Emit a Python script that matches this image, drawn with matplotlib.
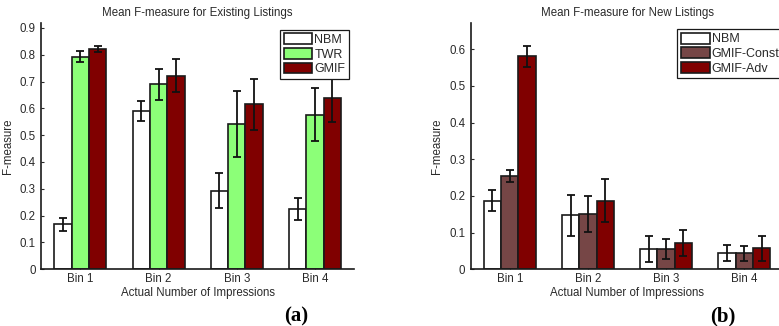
import matplotlib
matplotlib.use("Agg")
import matplotlib.pyplot as plt
import numpy as np

plt.rcParams['font.family'] = ['Liberation Sans', 'DejaVu Sans']

bins = ["Bin 1", "Bin 2", "Bin 3", "Bin 4"]

# Panel (a): existing listings
a_labels = ["NBM", "TWR", "GMIF"]
a_nbm = [0.167, 0.590, 0.293, 0.226]
a_nbm_err = [0.026, 0.036, 0.065, 0.041]
a_twr = [0.793, 0.690, 0.542, 0.577]
a_twr_err = [0.022, 0.058, 0.123, 0.097]
a_gmif = [0.822, 0.722, 0.616, 0.639]
a_gmif_err = [0.012, 0.061, 0.095, 0.089]

# Panel (b): new listings
b_labels = ["NBM", "GMIF-Const", "GMIF-Adv"]
b_nbm = [0.187, 0.147, 0.056, 0.044]
b_nbm_err = [0.029, 0.056, 0.035, 0.022]
b_const = [0.254, 0.150, 0.055, 0.044]
b_const_err = [0.016, 0.049, 0.027, 0.020]
b_adv = [0.581, 0.187, 0.071, 0.057]
b_adv_err = [0.028, 0.058, 0.036, 0.033]

W, H = 779, 326
fig = plt.figure(figsize=(W / 100, H / 100), dpi=100)

txt = "#2a2a2a"
bw = 0.222


def panel(rect, series, errs, labels, colors, ylim, yticks, title, leg_anchor, leg_loc):
    ax = fig.add_axes(rect)
    x = np.arange(1, len(bins) + 1)
    offs = [-bw, 0, bw]
    for s, e, lab, c, o in zip(series, errs, labels, colors, offs):
        ax.bar(x + o, s, width=bw, color=c, edgecolor="#1a1a1a", linewidth=1.2,
               label=lab, zorder=2)
        ax.errorbar(x + o, s, yerr=e, fmt="none", ecolor="#111111", elinewidth=1.3,
                    capsize=3, capthick=1.3, zorder=3)
    ax.set_xlim(0.5, 4.5)
    ax.set_ylim(*ylim)
    ax.set_yticks(yticks)
    ax.set_yticklabels([("%g" % t) for t in yticks])
    ax.set_xticks(x)
    ax.set_xticklabels(bins)
    for sp in ["top", "right"]:
        ax.spines[sp].set_visible(False)
    for sp in ["left", "bottom"]:
        ax.spines[sp].set_linewidth(1.2)
        ax.spines[sp].set_color("#1a1a1a")
    ax.tick_params(direction="in", length=2, width=0.8, labelsize=8.3, colors=txt, pad=3)
    ax.tick_params(axis="y", pad=4)
    ax.set_xlabel("Actual Number of Impressions", fontsize=8.3, color=txt, labelpad=1)
    ax.set_ylabel("F-measure", fontsize=8.3, color=txt, labelpad=4)
    ax.set_title(title, fontsize=8.3, color=txt, pad=5)
    leg = ax.legend(loc=leg_loc, bbox_to_anchor=leg_anchor, bbox_transform=fig.transFigure,
                    fontsize=9, frameon=True, fancybox=False, edgecolor="#1a1a1a",
                    framealpha=1, borderaxespad=0, borderpad=0.3, handlelength=2.3,
                    handleheight=0.95, handletextpad=0.15, labelspacing=0.15)
    leg.get_frame().set_linewidth(0.9)
    for t in leg.get_texts():
        t.set_color(txt)
    return ax


def fx(px):
    return px / W


def fy(py):
    return 1 - py / H


axa = panel([fx(41.3), fy(269.3), fx(354 - 41.3), (269.3 - 23.3) / H],
            [a_nbm, a_twr, a_gmif], [a_nbm_err, a_twr_err, a_gmif_err], a_labels,
            ["white", "#8cff78", "#800000"], (0, 0.917), np.round(np.arange(0, 0.91, 0.1), 1),
            "Mean F-measure for Existing Listings", (fx(349), fy(29.7)), "upper right")

axb = panel([fx(470.7), fy(269.3), fx(783.4 - 470.7), (269.3 - 23.3) / H],
            [b_nbm, b_const, b_adv], [b_nbm_err, b_const_err, b_adv_err], b_labels,
            ["white", "#764646", "#800000"], (0, 0.671), np.round(np.arange(0, 0.61, 0.1), 1),
            "Mean F-measure for New Listings", (fx(677.3), fy(29.0)), "upper left")

fig.text(fx(296), fy(316), "(a)", fontsize=15, fontweight="bold",
         family=["Liberation Serif", "DejaVu Serif"], ha="center", va="center")
fig.text(fx(723), fy(316), "(b)", fontsize=15, fontweight="bold",
         family=["Liberation Serif", "DejaVu Serif"], ha="center", va="center")

fig.savefig("out.png", dpi=100)
